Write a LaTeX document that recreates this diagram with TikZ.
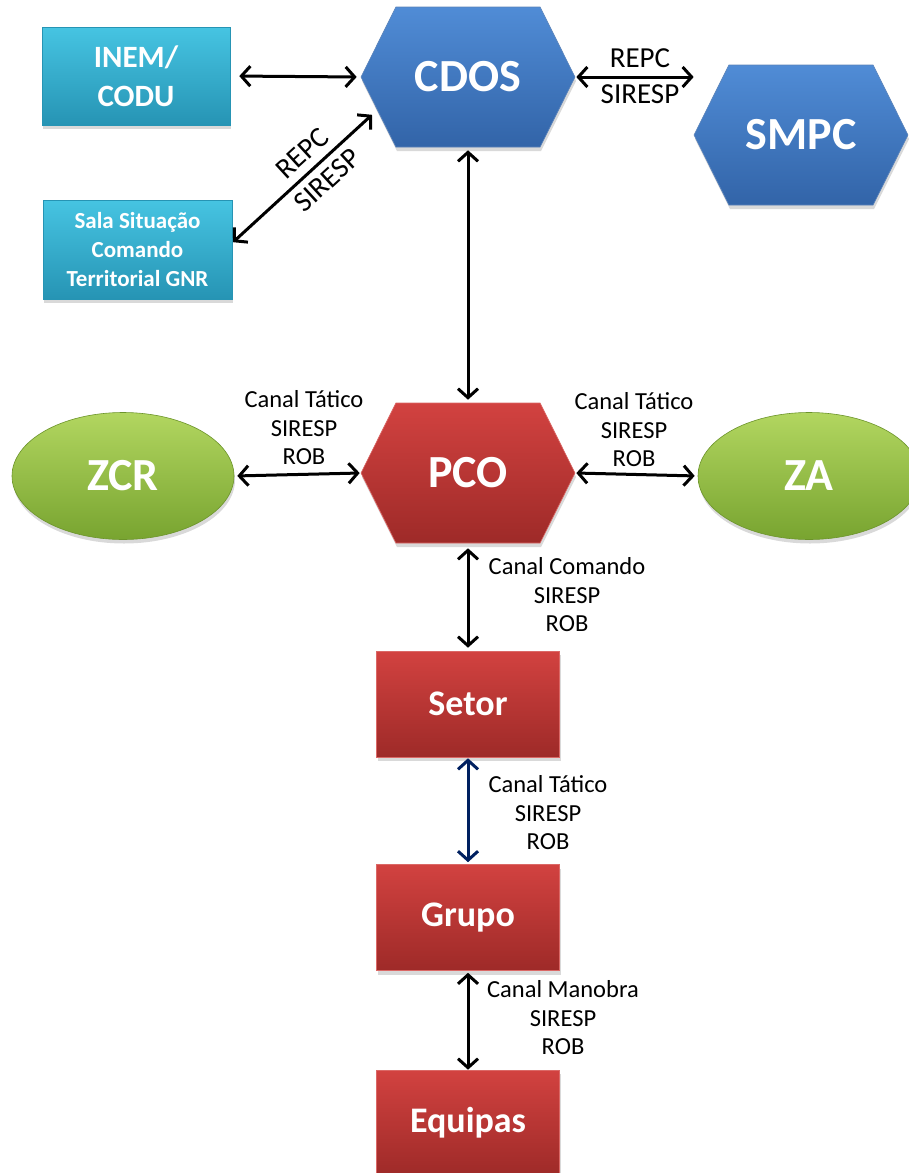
\documentclass[tikz,border=0pt]{standalone}
\usepackage{fontspec}
\setmainfont{Carlito}
\usetikzlibrary{shapes.geometric,shapes.symbols,shadows,arrows.meta,positioning}

\definecolor{blueT}{RGB}{80,140,214}
\definecolor{blueB}{RGB}{50,100,168}
\definecolor{redT}{RGB}{210,66,64}
\definecolor{redB}{RGB}{158,42,40}
\definecolor{greenT}{RGB}{178,214,96}
\definecolor{greenB}{RGB}{120,164,48}
\definecolor{tealT}{RGB}{70,196,226}
\definecolor{tealB}{RGB}{38,148,180}
\definecolor{navy}{RGB}{0,32,96}

\begin{document}
\begin{tikzpicture}[x=1pt, y=1pt,
  sh/.style = {drop shadow={opacity=0.3, shadow xshift=1pt, shadow yshift=-4pt}},
  hexa/.style = {signal, signal to=west and east, signal pointer angle=127, minimum width=214pt, minimum height=140pt, inner sep=0pt, text=white, font=\bfseries\fontsize{46}{50}\selectfont, sh},
  hexblue/.style = {hexa, top color=blueT, bottom color=blueB, draw=blueB!80!white, line width=0.6pt},
  hexred/.style = {hexa, top color=redT, bottom color=redB, draw=redT!80!white, line width=0.6pt},
  redbox/.style = {rectangle, minimum width=183pt, minimum height=106pt, inner sep=0pt, text=white, font=\bfseries\fontsize{36}{40}\selectfont, top color=redT, bottom color=redB, draw=redT!80!white, line width=0.6pt, sh},
  tealbox/.style = {rectangle, minimum width=188pt, minimum height=98pt, inner sep=0pt, align=center, text=white, top color=tealT, bottom color=tealB, draw=tealB, line width=0.6pt, sh},
  zone/.style = {ellipse, minimum width=222pt, minimum height=127pt, inner sep=0pt, text=white, font=\bfseries\fontsize{46}{50}\selectfont, top color=greenT, bottom color=greenB, draw=greenB!90!black, line width=0.6pt, sh},
  lbl/.style = {align=center, inner sep=1pt, font=\fontsize{24.5}{28.5}\selectfont},
  biglbl/.style = {lbl, font=\fontsize{29}{32}\selectfont},
  link/.style = {<->, >={Straight Barb[length=9pt,width=20pt]}, line width=3pt, line cap=round},
  node distance=3cm]

\useasboundingbox (0,0) rectangle (908,-1173);

% command chain
\node[hexblue] (cdos) at (468,-77) {CDOS};
\node[hexblue] (smpc) at (801,-135) {SMPC};
\node[hexred, below of=cdos, node distance=396pt] (pco) {PCO};
\node[redbox, below of=pco, node distance=231pt] (setor) {Setor};
\node[redbox, below of=setor, node distance=213.5pt] (grupo) {Grupo};
\node[redbox, below of=grupo, node distance=205.5pt] (equipas) {Equipas};

\node[tealbox, font=\bfseries\fontsize{31}{39}\selectfont] (inem) at (136,-76) {INEM/\\CODU};
\node[tealbox, minimum width=189pt, minimum height=99pt, font=\bfseries\fontsize{23}{29}\selectfont] (sala) at (137.5,-249.5) {Sala Situação\\Comando\\Territorial GNR};

\node[zone] (zcr) at (123,-476) {ZCR};
\node[zone] (za) at (809,-476) {ZA};

% links
\draw[link, shorten <=9pt, shorten >=4pt] (inem.east) -- (cdos.west);
\draw[link, shorten <=1pt] (cdos.east) -- (cdos.east -| smpc.west);
\node[biglbl] (repc1) at (640,-58) {REPC};
\node[biglbl] (siresp1) at (640,-94) {SIRESP};

\draw[link, shorten <=1pt, shorten >=7pt] (sala.4) -- (cdos.200)
  node[biglbl, pos=0.57, sloped, above=7pt] (repc2) {REPC}
  node[biglbl, pos=0.57, sloped, below=6pt] (siresp2) {SIRESP};

\draw[link, shorten <=3pt, shorten >=3pt] (cdos.south) -- (pco.north);

\draw[link, shorten <=3pt, shorten >=1pt] (zcr.east) -- (pco.west);
\node[lbl] (lzcr) at (304,-428) {Canal Tático\\SIRESP\\ROB};
\draw[link, shorten <=1pt, shorten >=3pt] (pco.east) -- (za.west);
\node[lbl] (lza) at (634,-430) {Canal Tático\\SIRESP\\ROB};

\draw[link, shorten <=5pt, shorten >=3pt] (pco.south) -- (setor.north);
\node[lbl] (lsetor) at (567,-595) {Canal Comando\\SIRESP\\ROB};

\draw[link, navy, shorten <=1pt, shorten >=2pt] (setor.south) -- (grupo.north);
\node[lbl] (lgrupo) at (548,-813) {Canal Tático\\SIRESP\\ROB};

\draw[link, shorten <=2pt, shorten >=0pt] (grupo.south) -- (equipas.north);
\node[lbl] (lequipas) at (563,-1018) {Canal Manobra\\SIRESP\\ROB};

\end{tikzpicture}
\end{document}
